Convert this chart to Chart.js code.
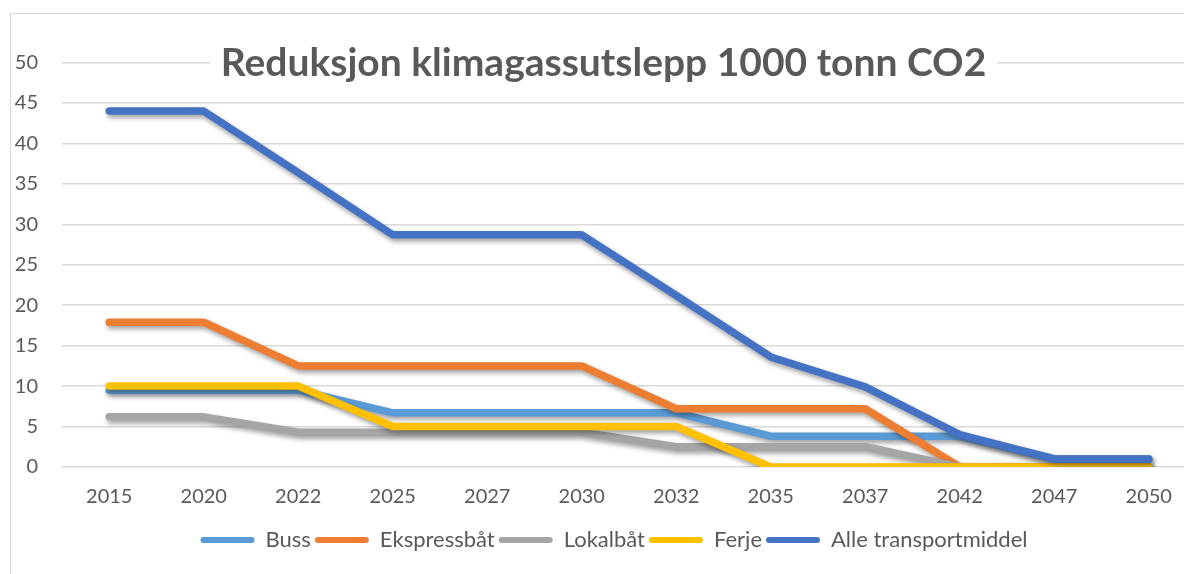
<!DOCTYPE html>
<html>
<head>
<meta charset="utf-8">
<script src="https://cdn.jsdelivr.net/npm/chart.js@4/dist/chart.umd.min.js"></script>
<style>
  html, body { margin: 0; padding: 0; background: #ffffff; overflow: hidden; width: 1184px; height: 574px; }
  #frame { position: absolute; left: 10px; top: 13px; width: 1200px; height: 600px; border-left: 1.5px solid #d9d9d9; border-top: 1.5px solid #d9d9d9; box-sizing: border-box; }
  #wrap { position: absolute; left: 0; top: 0; width: 1200px; height: 574px; }
  #title { position: absolute; left: 210px; width: 787px; top: 41px; height: 40px; line-height: 40px; background: #ffffff; text-align: center;
           font-family: Lato, "Liberation Sans", sans-serif; font-weight: bold; font-size: 39px; color: #595959; white-space: nowrap; }
</style>
</head>
<body>
<div id="frame"></div>
<div id="wrap"><canvas id="c"></canvas></div>
<div id="title">Reduksjon klimagassutslepp 1000 tonn CO2</div>
<script>
const years = ['2015','2020','2022','2025','2027','2030','2032','2035','2037','2042','2047','2050'];
const buss = [9.5, 9.5, 9.5, 6.7, 6.7, 6.7, 6.7, 3.8, 3.8, 3.8, 1.0, 1.0];
const ekspressbat = [17.9, 17.9, 12.5, 12.5, 12.5, 12.5, 7.2, 7.2, 7.2, 0, 0, 0];
const lokalbat = [6.2, 6.2, 4.3, 4.3, 4.3, 4.3, 2.5, 2.5, 2.5, 0, 0, 0];
const ferje = [10, 10, 10, 5, 5, 5, 5, 0, 0, 0, 0, 0];
const alle = [44, 44, 36.4, 28.7, 28.7, 28.7, 21.2, 13.6, 9.9, 4.0, 1.0, 1.0];
const seriesNames = ['Buss', 'Ekspressbåt', 'Lokalbåt', 'Ferje', 'Alle transportmiddel'];
const seriesColors = ['#5B9BD5', '#ED7D31', '#A5A5A5', '#FFC000', '#4472C4'];
const yTicks = [0, 5, 10, 15, 20, 25, 30, 35, 40, 45, 50];

const FONT = 'Lato, "Liberation Sans", sans-serif';
const TXT = '#595959';

const seriesData = [buss, ekspressbat, lokalbat, ferje, alle];
const datasets = seriesData.map((d, i) => ({
  label: seriesNames[i],
  data: d,
  borderColor: seriesColors[i],
  backgroundColor: seriesColors[i],
  borderWidth: 7.5,
  borderCapStyle: 'round',
  borderJoinStyle: 'round',
  pointRadius: 0,
  pointHoverRadius: 0,
  tension: 0,
  fill: false,
  order: seriesData.length - i
}));

const shadowPlugin = {
  id: 'shadow',
  beforeDatasetDraw(chart) {
    const ctx = chart.ctx;
    ctx.save();
    ctx.shadowColor = 'rgba(0,0,0,0.38)';
    ctx.shadowBlur = 5;
    ctx.shadowOffsetX = 1.5;
    ctx.shadowOffsetY = 3;
  },
  afterDatasetDraw(chart) {
    chart.ctx.restore();
  }
};

// shift the legend so it is centred like the reference
const legendShift = {
  id: 'legendShift',
  afterLayout(chart) {
    if (chart.legend) {
      chart.legend.left += 16;
      chart.legend.right += 16;
    }
  }
};

new Chart(document.getElementById('c'), {
  type: 'line',
  data: { labels: years, datasets },
  plugins: [shadowPlugin, legendShift],
  options: {
    responsive: true,
    maintainAspectRatio: false,
    animation: false,
    devicePixelRatio: 1,
    layout: { padding: { top: 62.5, left: 0, right: 4, bottom: 13 } },
    plugins: {
      title: { display: false },
      tooltip: { enabled: false },
      legend: {
        position: 'bottom',
        labels: {
          font: { family: FONT, size: 22 },
          color: TXT,
          boxWidth: 54,
          boxHeight: 6,
          useBorderRadius: true,
          borderRadius: 3,
          padding: 4,
          sort: (a, b) => a.datasetIndex - b.datasetIndex,
          generateLabels(chart) {
            const items = Chart.defaults.plugins.legend.labels.generateLabels(chart);
            return items.map(it => Object.assign(it, { lineWidth: 0, strokeStyle: 'rgba(0,0,0,0)' }));
          }
        }
      }
    },
    scales: {
      x: {
        type: 'category',
        offset: true,
        grid: { display: false, drawTicks: false },
        border: { display: false },
        ticks: { color: TXT, font: { family: FONT, size: 20 }, padding: 18, maxRotation: 0, autoSkip: false },
        afterFit(scale) { scale.height = 58; }
      },
      y: {
        min: 0,
        max: 50,
        afterBuildTicks(scale) { scale.ticks = yTicks.map(v => ({ value: v })); },
        grid: { color: '#d9d9d9', lineWidth: 1.5, drawTicks: false },
        border: { display: false },
        ticks: { color: TXT, font: { family: FONT, size: 20 }, padding: 24 },
        afterFit(scale) { scale.width = 62; }
      }
    }
  }
});
</script>
</body>
</html>
